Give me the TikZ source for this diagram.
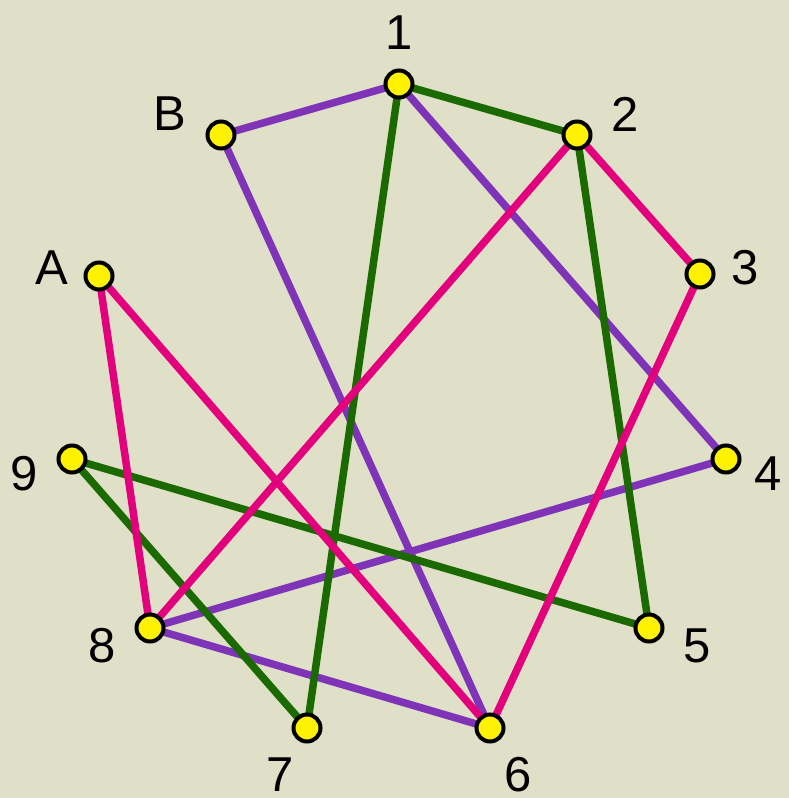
\documentclass[tikz,border=0pt]{standalone}
\usepackage{fontspec}
\setmainfont{Liberation Sans}
\definecolor{bg}{RGB}{224,224,200}
\definecolor{pur}{RGB}{127,52,184}
\definecolor{grn}{RGB}{26,106,0}
\definecolor{pnk}{RGB}{226,0,124}
\begin{document}
\begin{tikzpicture}[x=1pt,y=-1pt,
  dot/.style={circle,draw=black,line width=4pt,fill=yellow,minimum size=27pt,inner sep=0pt},
  lab/.style={font=\fontsize{49}{49}\selectfont,inner sep=0pt},
  ep/.style={line width=7.5pt,draw=pur},
  eg/.style={line width=7.5pt,draw=grn},
  ek/.style={line width=7.5pt,draw=pnk}]
\fill[bg] (0,0) rectangle (789,798);
\useasboundingbox (0,0) rectangle (789,798);
\coordinate (p1) at (399,84);
\coordinate (p2) at (577,135);
\coordinate (p3) at (700,274);
\coordinate (p4) at (726,459);
\coordinate (p5) at (649,628);
\coordinate (p6) at (490,728);
\coordinate (p7) at (307,728);
\coordinate (p8) at (150,628);
\coordinate (p9) at (72,459);
\coordinate (pA) at (99,276);
\coordinate (pB) at (221,135);
% edges
\draw[ep] (pB) -- (p1);
\draw[ep] (p1) -- (p4);
\draw[ep] (pB) -- (p6);
\draw[ep] (p4) -- (p8);
\draw[ep] (p8) -- (p6);
\draw[eg] (p1) -- (p2);
\draw[eg] (p1) -- (p7);
\draw[eg] (p2) -- (p5);
\draw[eg] (p9) -- (p5);
\draw[eg] (p9) -- (p7);
\draw[ek] (p2) -- (p3);
\draw[ek] (p2) -- (p8);
\draw[ek] (p3) -- (p6);
\draw[ek] (pA) -- (p8);
\draw[ek] (pA) -- (p6);
% dots
\foreach \n in {1,2,3,4,5,6,7,8,9,A,B} \node[dot] (n\n) at (p\n) {};
% labels
\node[lab] (l1) at (399,33) {1};
\node[lab] (l2) at (625,114) {2};
\node[lab] (l3) at (745,268) {3};
\node[lab] (l4) at (768,474) {4};
\node[lab] (l5) at (697,646) {5};
\node[lab] (l6) at (518,775) {6};
\node[lab] (l7) at (280,775) {7};
\node[lab] (l8) at (102,646) {8};
\node[lab] (l9) at (24,474) {9};
\node[lab] (lA) at (52,268) {A};
\node[lab] (lB) at (170,114) {B};
\end{tikzpicture}
\end{document}
